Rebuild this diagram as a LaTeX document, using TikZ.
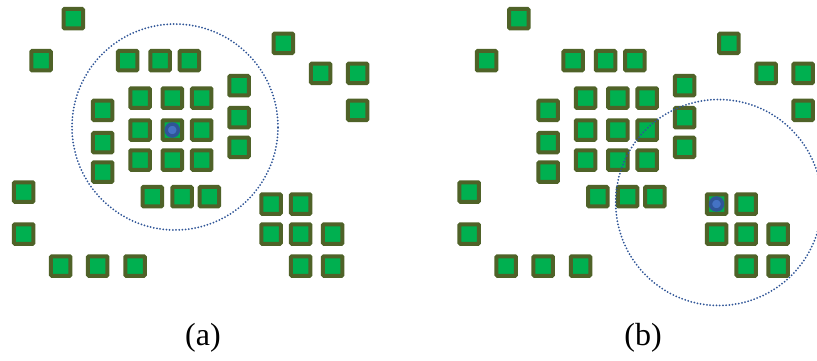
\documentclass[tikz,border=0pt]{standalone}
\usepackage{fontspec}
\setmainfont{Liberation Serif}
\definecolor{sqfill}{HTML}{00B050}
\definecolor{sqedge}{HTML}{4F6228}
\definecolor{dotfill}{HTML}{4472C4}
\definecolor{dotedge}{HTML}{2F5597}
\definecolor{ringcol}{HTML}{2F5597}
\tikzset{
  sq/.style={draw=sqedge,fill=sqfill,line width=4pt,minimum size=19.5pt,inner sep=0pt,rounded corners=1pt},
  query/.style={circle,draw=dotedge,fill=dotfill,line width=3.5pt,minimum size=12pt,inner sep=0pt},
  ring/.style={circle,draw=ringcol,line width=2pt,dash pattern=on 0pt off 3.2pt,line cap=round,inner sep=0pt,minimum size=206pt},
  caption/.style={font=\fontsize{32}{36}\selectfont,inner sep=0pt}
}
\begin{document}
\begin{tikzpicture}[x=1pt,y=-1pt]
\useasboundingbox (0,0) rectangle (817,360);
\foreach \px/\pn in {0/L,445.5/R}{
  \foreach \x/\y [count=\i] in {73.3/18.7,41/60.7,127.7/60.7,160/60.7,189.3/60.7,283.3/43.3,320.7/73.3,357.7/73.3,357.7/110.3,239/85.7,239/117.7,239/147.3,140/98,172.3/98,201.7/98,140/130,172.3/130,201.7/130,140/160,172.3/160,201.7/160,102.7/110.3,102.7/142.7,102.7/172,23.7/192,23.7/234,152.3/196.7,182/196.7,209.3/196.7,271/204,300.7/204,271/234,300.7/234,332.7/234,300.7/266,332.7/266,60.7/266,97.7/266,135/266}
    \node[sq] (\pn\i) at (\x+\px,\y) {};
}
\node[query] (qa) at (L17) {};
\node[ring] (ra) at (175,127) {};
\node[query] (qb) at (R30) {};
\node[ring] (rb) at (718.7,202.5) {};
\node[caption] (capa) at (203,338) {(a)};
\node[caption] (capb) at (643,338) {(b)};
\end{tikzpicture}
\end{document}
